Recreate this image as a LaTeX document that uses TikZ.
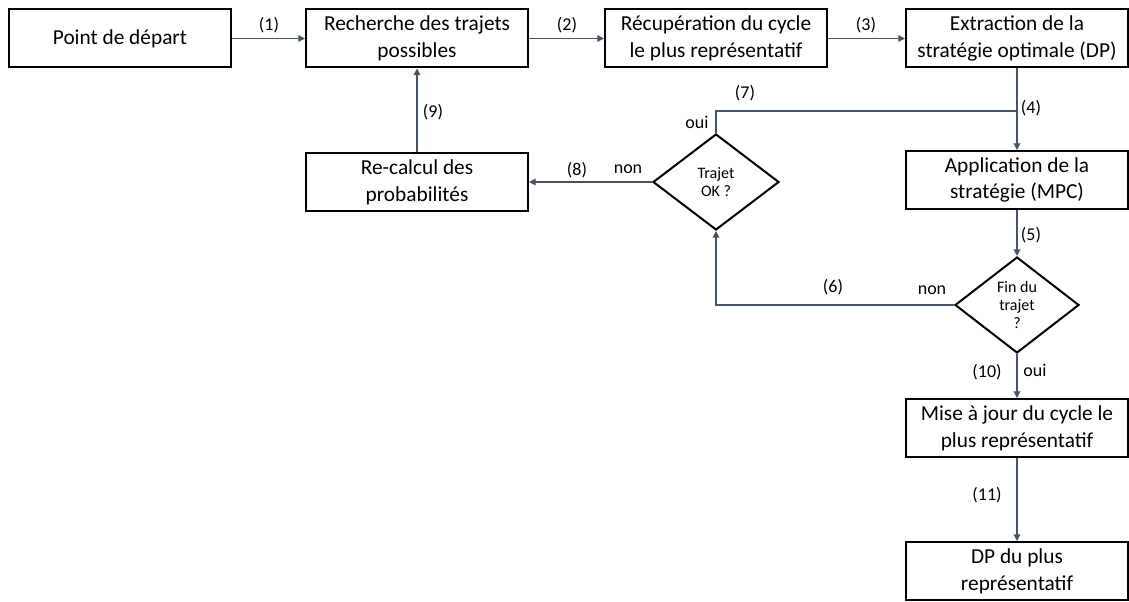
\documentclass[tikz,border=0pt]{standalone}
\usepackage{fontspec}
\setmainfont{Carlito}
\usepackage{tikz}
\usetikzlibrary{arrows.meta,positioning,shapes.geometric}

\definecolor{lien}{HTML}{44546A}

\begin{document}
\begin{tikzpicture}[
    x=0.75pt, y=-0.75pt,
    boite/.style={draw=black, line width=1.5pt, minimum width=166.5pt, minimum height=43.5pt,
        inner sep=2pt, align=center, font=\fontsize{16}{20}\selectfont},
    test/.style={diamond, draw=black, line width=1.5pt, inner sep=0pt, aspect=1.3,
        align=center, font=\fontsize{12}{13.5}\selectfont},
    lbl/.style={inner sep=0pt, font=\fontsize{13.5}{16}\selectfont},
    fleche/.style={-{Triangle[length=5pt,width=5pt]}, line width=1pt, draw=lien},
    ligne/.style={line width=1pt, draw=lien},
]
\useasboundingbox (0,0) rectangle (1129,602);

\node[boite] (depart)    at (120,38.5)  {Point de départ};
\node[boite] (recherche) at (417,38.5)  {Recherche des trajets\\possibles};
\node[boite] (recup)     at (716,38.5)  {Récupération du cycle\\le plus représentatif};
\node[boite] (extract)   at (1017,38.5) {Extraction de la\\stratégie optimale (DP)};
\node[boite] (appli)     at (1017,180)  {Application de la\\stratégie (MPC)};
\node[test, minimum width=93pt, minimum height=72pt] (fin) at (1017,305) {Fin du\\trajet\\?};
\node[boite] (maj)       at (1017,428)  {Mise à jour du cycle le\\plus représentatif};
\node[boite] (dpplus)    at (1017,571)  {DP du plus\\représentatif};
\node[test, minimum width=94.5pt, minimum height=72pt] (ok) at (716,182) {Trajet\\OK ?};
\node[boite] (recalc)    at (417,182)   {Re-calcul des\\probabilités};
\coordinate (j7) at (1017,111);

\draw[fleche] (depart) -- (recherche);
\draw[fleche] (recherche) -- (recup);
\draw[fleche] (recup) -- (extract);
\draw[fleche] (extract) -- (appli);
\draw[fleche] (appli) -- (fin);
\draw[fleche] (fin.west) -| (ok.south);
\draw[ligne] (ok.north) |- (j7);
\draw[fleche] (ok.west) -- (recalc.east);
\draw[fleche] (recalc) -- (recherche);
\draw[fleche] (fin) -- (maj);
\draw[fleche] (maj) -- (dpplus);

\node[lbl] (l1)  at (269,25)  {(1)};
\node[lbl] (l2)  at (567,25)  {(2)};
\node[lbl] (l3)  at (866,25)  {(3)};
\node[lbl] (l4)  at (1031,108) {(4)};
\node[lbl] (l5)  at (1031,235) {(5)};
\node[lbl] (l6)  at (833,287) {(6)};
\node[lbl] (l7)  at (745,93)  {(7)};
\node[lbl] (l8)  at (577,170) {(8)};
\node[lbl] (l9)  at (433,112) {(9)};
\node[lbl] (l10) at (987,372) {(10)};
\node[lbl] (l11) at (987,495) {(11)};
\node[lbl] (ouiok) at (697,122) {oui};
\node[lbl] (nonok) at (628,169) {non};
\node[lbl] (nonfin) at (932,290) {non};
\node[lbl] (ouifin) at (1035,370) {oui};
\end{tikzpicture}
\end{document}
